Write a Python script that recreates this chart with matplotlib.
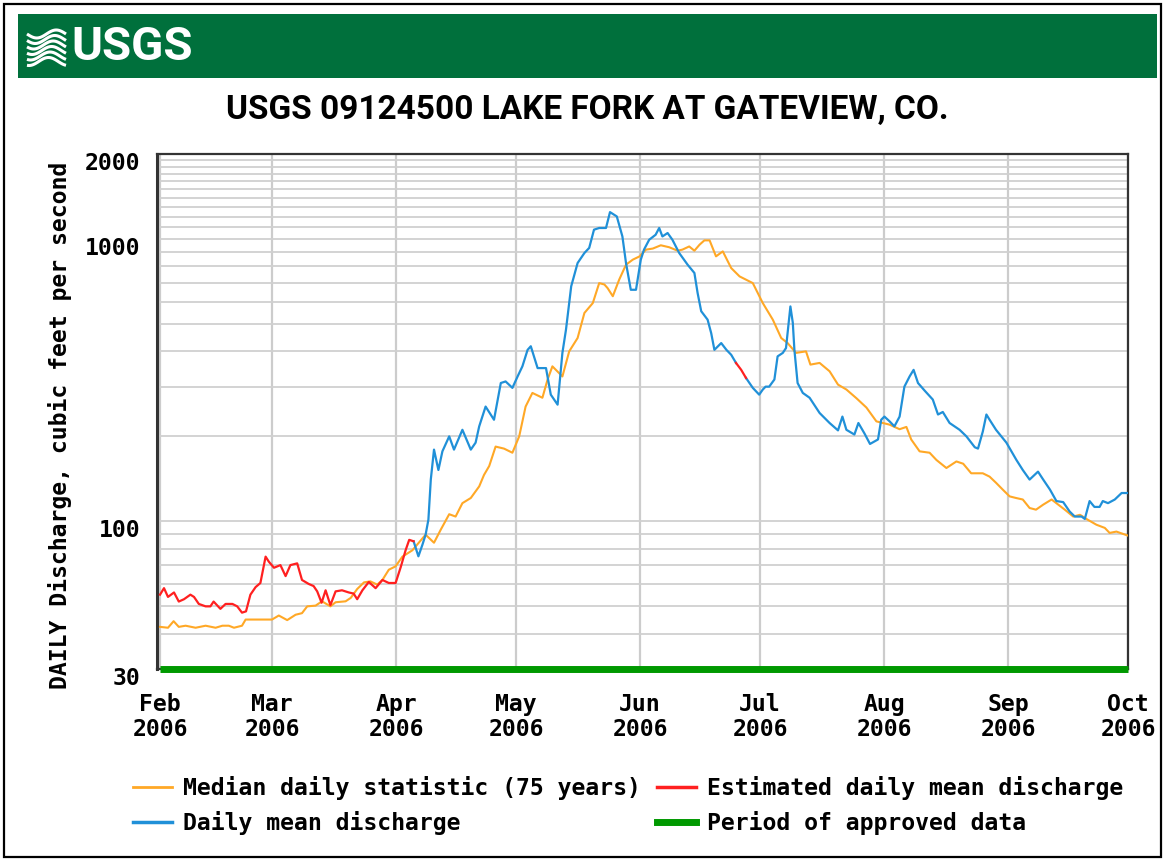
import numpy as np
import pandas as pd
from matplotlib import pyplot as plt
from matplotlib.patches import Rectangle
from matplotlib.lines import Line2D
from matplotlib.transforms import ScaledTranslation

# days after 2006-02-01, values in cubic feet per second
med_day = [0, 2, 3.4, 4.7, 6.4, 8.9, 11.4, 13.9, 15.6, 17.2, 18.5, 20.5, 21.4, 24.7, 28, 29.7,
           31.8, 33.9, 35.5, 36.8, 38.9, 40.5, 42.6, 43.9, 46.4, 47.7, 49.3, 51, 52.6, 54.3, 55.6,
           57.2, 58.9, 60.6, 63.1, 66.4, 68.5, 70.2, 72.3, 73.9, 75.6, 77.7, 79.8, 81, 82.3, 83.9,
           86, 88.1, 89.8, 91.4, 93.1, 95.6, 96.9, 98.1, 100.6, 102.3, 104.4, 106.1, 108.2, 109.8,
           111.1, 111.9, 113.2, 114.8, 116.5, 118.2, 119.9, 121.5, 123.2, 125.2, 127.3, 129.4,
           130.6, 132.3, 133.6, 134.9, 136.1, 137.4, 139, 140.7, 142.8, 144.9, 148.2, 150.7, 153.2,
           155.3, 156.9, 159, 161.5, 162.6, 164.9, 167.4, 169.5, 171.6, 174.1, 176.6, 179.1, 182.4,
           184.9, 186.6, 187.8, 189.9, 192.4, 194.1, 196.6, 199.1, 200.8, 202.8, 205.7, 207.4, 209,
           210.7, 212.4, 214, 215.7, 217.4, 219, 220.8, 222.9, 224.1, 226.2, 228.3, 230, 231.9,
           234.1, 236.2, 237.4, 239.1, 242]
med_cfs = [42.3, 42, 44.3, 42.3, 42.7, 42, 42.7, 42, 42.7, 42.7, 42, 42.7, 44.9, 44.9, 44.9, 46.4,
           44.7, 46.7, 47.3, 50, 50.3, 52.1, 50, 51.7, 52.1, 53.6, 57.6, 60.8, 61.3, 59.7, 62,
           67.4, 69.3, 75, 79, 89.7, 84, 93.5, 106, 104, 116, 121, 133, 146, 157, 184,
           181, 175, 200, 255, 285, 274, 318, 354, 326, 400, 446, 547, 593, 698,
           690, 670, 627, 718, 811, 845, 868, 917, 925, 950, 935, 909,
           917, 941, 909, 955, 989, 989, 868, 904, 789, 737, 698, 593, 518,
           446, 428, 395, 400, 359, 364, 340, 305, 293, 273, 253, 226, 220,
           212, 216, 195, 177, 175, 165, 154.5, 163, 160, 148, 148, 144, 137,
           129.5, 122.6, 121, 119.5, 111.5, 110, 114.6, 119.5, 116, 110, 104, 105.5, 101.4,
           97.3, 94.8, 91, 92, 89]

mean_day = [63.4, 64.6, 65.6, 66.4, 67.1, 67.7, 68.5, 69.6, 70.6, 72.3, 73.5, 75.6, 77.7, 78.9,
            79.8, 81.4, 83.5, 85.2, 86.4, 88.1, 89.4, 90.6, 91.9, 92.7, 94.4, 96.5, 97.7, 99.4,
            100.6, 101.5, 102.8, 104.4, 106.1, 107.3, 108.5, 109.8, 111.5, 112.5, 114.2, 115.6,
            116.5, 117.7, 119, 120.2, 121, 122.3, 123.9, 124.8, 125.6, 126.9, 128.1, 129.8, 131.9,
            133.6, 134.4, 135.3, 136.9, 137.8, 138.6, 140.3, 141.6, 142.8, 144,
            np.nan,
            146.5, 148.2, 149.8, 150.7, 151.4, 152.3, 153.6, 154.4, 155.7, 156.5, 157, 157.6,
            158.2, 158.6, 159.4, 160.7, 162.4, 164.9, 167.4, 169.5, 170.6, 171.6, 173.6, 174.6,
            176.1, 177.5, 179.5, 180.3, 181.1, 182.4, 183.6, 184.9, 186.1, 187.4, 188.4, 189.5,
            191.2, 193.2, 194.5, 195.7, 197.4, 199.9, 201.6, 203.7, 204.5, 205.7, 206.6, 207.4,
            209, 211.6, 214.1, 215.7, 217.4, 218.6, 219.5, 220.8, 222.5, 224.1, 225.8, 227.4,
            228.7, 230.4, 231.2, 232.4, 233.6, 234.9, 235.7, 237, 238.7, 240.4, 242]
mean_cfs = [85, 75.2, 82.6, 89.7, 101.4, 140.6, 179.5, 152, 177, 200, 179.5, 211, 179.5, 190,
            217, 255, 229, 309, 313, 297, 326, 354, 405, 417, 349, 349, 281, 259,
            395, 478, 680, 822, 892, 930, 1079, 1094, 1094, 1245, 1202, 1021,
            822, 661, 661, 845, 917, 994, 1035, 1094, 1021, 1050, 994, 892, 811,
            758, 644, 555, 518, 464, 405, 428, 405, 389, 364,
            np.nan,
            322, 297, 281, 293, 300, 300, 318, 384, 395, 411, 478, 577,
            505, 405, 309, 285, 274, 242, 223, 210, 235, 211, 203, 223,
            205, 188, 195, 229, 235, 226, 217, 235, 300, 326, 344, 309,
            290, 270, 239, 244, 223, 211, 200, 183, 181, 208, 239, 229,
            211, 190, 165, 152, 140.6, 146, 150, 140.6, 129.5, 118, 117, 108.4,
            104, 104, 102, 118, 112.5, 112.5, 118, 116, 119.5, 126, 126]

est_day = [0, 1, 2, 3.5, 4.7, 6, 7.6, 8.5, 9.7, 11.4, 12.6, 13.4, 15.1, 16.4, 18.1, 19.3, 20.5,
           21.5, 22.6, 23.9, 25.1, 26.4, 27.2, 28.5, 30.1, 31.4, 32.6, 34.3, 35.5, 37.2, 38.4,
           39.3, 40.4, 41.4, 42.6, 43.9, 45.5, 47.2, 48.4, 49.3, 50.6, 52.2, 53.9, 55.6, 57.2,
           58.9, 60.2, 61.4, 62.3, 63.4,
           np.nan,
           144, 145.3, 146.5]
est_cfs = [55, 58, 54, 56, 52, 53, 55, 54, 51, 50, 50, 52, 49, 51, 51, 50, 47.5,
           48, 55, 58.5, 60.5, 75, 72, 68.5, 70, 64, 70, 71, 62, 60, 59,
           56.5, 51.5, 57, 50.5, 56.5, 57, 56, 55.5, 53, 57, 61, 58, 62, 60.5,
           60.5, 69, 79, 86, 85,
           np.nan,
           364, 344, 322]

y_labels = [30, 100, 1000, 2000]
y_grid = list(range(30, 100, 10)) + list(range(100, 1000, 100)) + list(range(1000, 2001, 100))

START = pd.Timestamp('2006-02-01')
END = pd.Timestamp('2006-10-01')

ORANGE = '#FFA826'
BLUE = '#2090D8'
RED = '#FF2020'
GREEN = '#009900'
MONO = 'DejaVu Sans Mono'
HEAD = ['Roboto', 'DejaVu Sans']
FS = 16.7


def to_dates(days):
    return START + pd.to_timedelta(np.array(days, dtype=float), unit='D')


fig = plt.figure(figsize=(11.66, 8.61), dpi=100)

# page decoration in pixel coordinates
deco = fig.add_axes([0, 0, 1, 1], zorder=-1)
deco.set_xlim(0, 1166)
deco.set_ylim(861, 0)
deco.axis('off')
deco.add_patch(Rectangle((4, 4), 1157, 853, fill=False, edgecolor='black', lw=1.6))
deco.add_patch(Rectangle((18, 14), 1139, 64, facecolor='#00703C', edgecolor='none'))
wx = np.linspace(27, 66, 40)
for k in range(6):
    wy = 34 + k * 5.5 + 4 * np.sin((wx - 27) / 39 * 2 * np.pi + k * 0.25)
    deco.plot(wx, wy, color='white', lw=2.2, solid_capstyle='butt')
deco.text(71, 47, 'USGS', color='white', fontsize=34, fontweight='bold', family=HEAD,
          ha='left', va='center')
deco.text(587, 110, 'USGS 09124500 LAKE FORK AT GATEVIEW, CO.', fontsize=24,
          fontweight='bold', family=HEAD, ha='center', va='center')
deco.text(60, 425, 'DAILY Discharge, cubic feet per second', rotation=90, fontsize=FS,
          fontweight='bold', family=MONO, ha='center', va='center')

ax = fig.add_axes([157 / 1166, 1 - 669 / 861, 971 / 1166, 515 / 861])
ax.set_yscale('log')

ax.plot(to_dates(med_day), med_cfs, color=ORANGE, lw=1.5, zorder=3)
ax.plot(to_dates(mean_day), mean_cfs, color=BLUE, lw=1.6, zorder=4)
ax.plot(to_dates(est_day), est_cfs, color=RED, lw=1.6, zorder=5)
ax.plot([START, END], [30, 30], color=GREEN, lw=5, clip_on=False, solid_capstyle='butt',
        zorder=6)

ax.set_xlim(START - pd.Timedelta(hours=18), END)
ax.set_ylim(30, 2000)

months = pd.date_range(START, END, freq='MS')
ax.set_xticks(months)
ax.set_xticklabels([m.strftime('%b\n%Y') for m in months], fontsize=FS, fontweight='bold',
                   family=MONO, linespacing=1.15)
ax.set_yticks(y_grid, minor=True)
ax.set_yticks(y_labels)
ax.set_yticklabels([str(v) for v in y_labels], fontsize=FS, fontweight='bold', family=MONO)
ax.tick_params(axis='both', which='both', length=0)
ax.tick_params(axis='x', pad=17)
ax.tick_params(axis='y', pad=12)
ax.yaxis.set_minor_formatter(plt.NullFormatter())
shift = ScaledTranslation(0, -5 / 72, fig.dpi_scale_trans)
for lab in ax.get_yticklabels():
    lab.set_transform(lab.get_transform() + shift)
ax.grid(True, which='both', axis='y', color='#d0d0d0', lw=1.3)
ax.grid(True, which='major', axis='x', color='#cccccc', lw=1.6)
ax.set_axisbelow(True)
for side in ax.spines.values():
    side.set_color('#333333')
    side.set_linewidth(1.6)
ax.spines['left'].set_linewidth(2.2)

handles = [Line2D([], [], color=ORANGE, lw=2), Line2D([], [], color=BLUE, lw=2.5),
           Line2D([], [], color=RED, lw=2.5), Line2D([], [], color=GREEN, lw=5)]
labels = ['Median daily statistic (75 years)', 'Daily mean discharge',
          'Estimated daily mean discharge', 'Period of approved data']
fig.legend(handles, labels, ncol=2, loc='center', bbox_to_anchor=(0.539, 0.064),
           frameon=False, prop={'family': MONO, 'size': FS, 'weight': 'bold'},
           handlelength=1.65, handletextpad=0.5, columnspacing=0.7, labelspacing=0.47)

fig.savefig('out.png', dpi=100)
